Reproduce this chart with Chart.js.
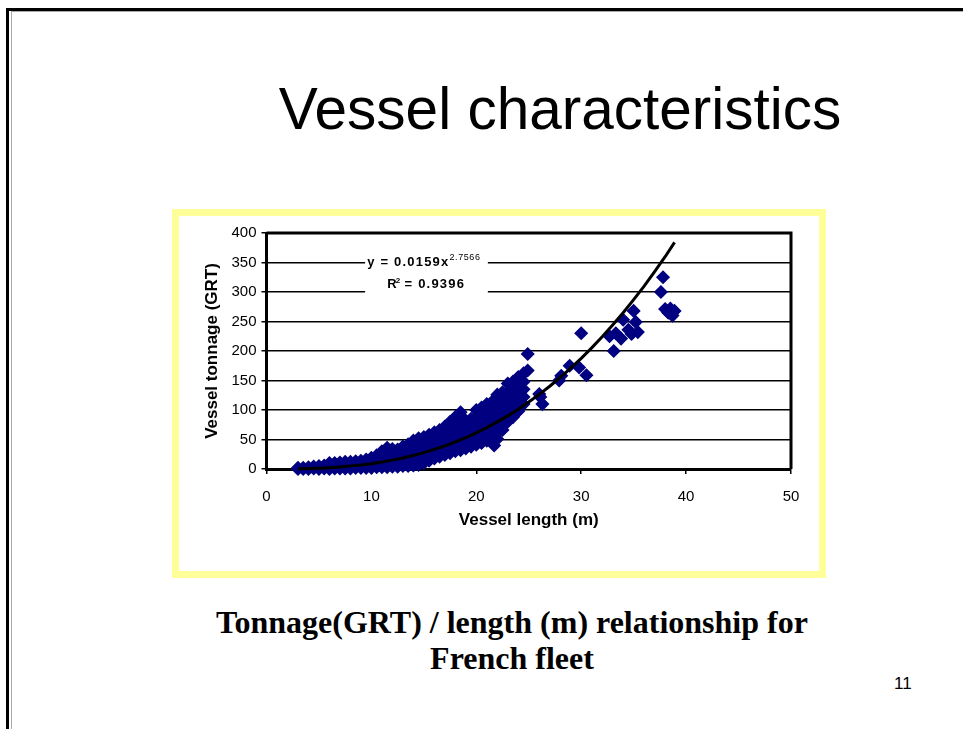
<!DOCTYPE html>
<html>
<head>
<meta charset="utf-8">
<script src="https://cdn.jsdelivr.net/npm/chart.js@4"></script>
<style>
  body { margin: 0; width: 963px; height: 729px; background: #fff; overflow: hidden; position: relative; font-family: 'Liberation Sans', Arial, sans-serif; }
  .frame { position: absolute; left: 6px; top: 8px; width: 980px; height: 760px; border-top: 3px solid #000; border-left: 3px solid #000; }
  .inner { position: absolute; left: 11px; top: 11px; width: 980px; height: 760px; border-top: 1px solid #aaa; border-left: 1px solid #aaa; }
  .title { position: absolute; left: 160px; width: 800px; top: 80px; text-align: center; font-size: 58.5px; line-height: 58.5px; color: #000; }
  .box { position: absolute; left: 172px; top: 209px; width: 654px; height: 369px; border: 7px solid #ffff99; box-sizing: border-box; }
  #chart { position: absolute; left: 179px; top: 216px; }
  .caption { position: absolute; left: 112px; width: 800px; top: 604px; text-align: center; font-family: 'Liberation Serif', 'Times New Roman', serif; font-weight: bold; font-size: 32px; line-height: 36px; color: #000; }
  .page { position: absolute; left: 894px; top: 675px; font-size: 17px; line-height: 17px; color: #000; }
</style>
</head>
<body>
<div class="frame"></div>
<div class="inner"></div>
<div class="title">Vessel characteristics</div>
<div class="box"></div>
<canvas id="chart" width="640" height="355"></canvas>
<div class="caption">Tonnage(GRT) / length (m) relationship for<br>French fleet</div>
<div class="page">11</div>
<script>
// vessel length (m), tonnage (GRT)
const smallBoats = [
  [3,0],[3,2],[3.5,0],[3.5,2],[4,0],[4,3],[4.5,1],[4.5,4],[5,0],[5,5],[5.5,1],[5.5,6],
  [6,0],[6,5],[6,10],[6.5,1],[6.5,6],[6.5,10],[7,1],[7,6],[7,11],[7.5,1],[7.5,7],[7.5,12],
  [8,1],[8,7],[8,12],[8.5,2],[8.5,8],[8.5,13],[9,2],[9,8],[9,14],[9.5,2],[9.5,9],[9.5,16],
  [10,2],[10,10],[10,19],[10.5,3],[10.5,12],[10.5,23],[11,3],[11,12],[11,21],[11,30],
  [11.5,3],[11.5,13],[11.5,24],[11.5,36]
];
const midBoats = [
  [12,4],[12,13],[12,24],[12,34],[12.5,4],[12.5,14],[12.5,24],[12.5,33],
  [13,5],[13,15],[13,26],[13,38],[13.5,5],[13.5,16],[13.5,28],[13.5,42],
  [14,6],[14,17],[14,29],[14,40],[14,48],[14.5,7],[14.5,18],[14.5,30],[14.5,41],[14.5,52],
  [15,10],[15,21],[15,32],[15,43],[15,54],[15.5,14],[15.5,24],[15.5,35],[15.5,46],[15.5,58],
  [16,18],[16,28],[16,39],[16,50],[16,62],[16.5,21],[16.5,31],[16.5,42],[16.5,54],[16.5,66],
  [17,24],[17,34],[17,46],[17,58],[17,72],[17.5,27],[17.5,37],[17.5,49],[17.5,61],[17.5,72],[17.5,80],
  [18,30],[18,40],[18,52],[18,64],[18,76],[18,88],[18.5,32],[18.5,43],[18.5,55],[18.5,67],[18.5,80],[18.5,96],
  [19,35],[19,46],[19,58],[19,70],[19,82],[19.5,38],[19.5,49],[19.5,61],[19.5,73],[19.5,85],
  [20,41],[20,52],[20,64],[20,76],[20,88],[20,100]
];
const largeBoats = [
  [20.5,44],[20.5,56],[20.5,68],[20.5,80],[20.5,92],[20.5,104],
  [21,48],[21,60],[21,72],[21,84],[21,96],[21,110],
  [21.5,52],[21.5,64],[21.5,76],[21.5,88],[21.5,100],[21.5,114],[21.7,40],
  [22,51],[22,62],[22,75],[22,88],[22,100],[22,113],[22,126],
  [22.5,66],[22.5,78],[22.5,90],[22.5,103],[22.5,116],[22.5,130],
  [23,80],[23,92],[23,105],[23,118],[23,131],[23,145],
  [23.5,88],[23.5,100],[23.5,113],[23.5,126],[23.5,139],[23.5,148],
  [24,98],[24,110],[24,123],[24,136],[24,150],[24,156],
  [24.5,110],[24.5,122],[24.5,135],[24.5,148],[24.5,162],[24.9,167],[24.9,195]
];
const bigBoats = [
  [26,127],[26.1,122],[26.3,110],[27.9,150],[28.1,158],[28.9,175],[29.8,172],[30.5,159],
  [30,230],[32.7,225],[33.1,200],[33.3,230],[33.8,221],[34,253],[34.5,236],[34.8,229],
  [35,268],[35.2,249],[35.4,232],[37.6,300],[37.8,325],[38,271],[38.3,265],[38.5,272],
  [38.7,260],[38.9,268]
];
// power trendline y = 0.0159x^2.7566
const trendLength = [3,4,5,6,7,8,9,10,11,12,13,14,15,16,17,18,19,20,21,22,23,24,25,26,27,28,29,30,31,32,33,34,35,36,37,38,38.9];
const trendTonnage = [0.33,0.73,1.34,2.22,3.40,4.91,6.79,9.08,11.8,15.0,18.7,22.9,27.8,33.2,39.2,45.9,53.3,61.4,70.2,79.8,90.1,101.3,113.5,126.5,140.3,155.1,170.9,187.6,205.3,224,244,264.9,287,310,334.4,359.8,384];

const FONT = "'Liberation Sans', Arial, sans-serif";
const fleet = smallBoats.concat(midBoats, largeBoats, bigBoats).map(p => ({ x: p[0], y: p[1] }));
const trend = trendLength.map((x, i) => ({ x: x, y: trendTonnage[i] }));

const framePlugin = {
  id: 'frame',
  beforeDatasetsDraw(chart) {
    const { ctx, scales: { x, y } } = chart;
    ctx.save();
    // white label box over the grid lines
    const x1 = x.getPixelForValue(9.4), x2 = x.getPixelForValue(21.1);
    const y1 = y.getPixelForValue(368), y2 = y.getPixelForValue(293);
    ctx.fillStyle = '#fff';
    ctx.fillRect(x1, y1, x2 - x1, y2 - y1);
    ctx.fillStyle = '#000';
    ctx.textBaseline = 'middle';
    ctx.textAlign = 'left';
    let tx = x.getPixelForValue(9.6), ty = y.getPixelForValue(350);
    ctx.font = 'bold 13px ' + FONT;
    ctx.letterSpacing = '1.2px';
    ctx.fillText('y = 0.0159x', tx, ty);
    let w = ctx.measureText('y = 0.0159x').width;
    ctx.font = '9px ' + FONT;
    ctx.letterSpacing = '0.6px';
    ctx.fillText('2.7566', tx + w, ty - 5);
    tx = x.getPixelForValue(11.5); ty = y.getPixelForValue(312);
    ctx.font = 'bold 13px ' + FONT;
    ctx.letterSpacing = '1.2px';
    ctx.fillText('R', tx, ty);
    w = ctx.measureText('R').width;
    ctx.font = 'bold 8px ' + FONT;
    ctx.fillText('2', tx + w - 2, ty - 4);
    ctx.font = 'bold 13px ' + FONT;
    ctx.fillText(' = 0.9396', tx + w + 2, ty);
    ctx.restore();
  },
  afterDatasetsDraw(chart) {
    const { ctx, chartArea: a } = chart;
    ctx.save();
    ctx.strokeStyle = '#000';
    ctx.lineWidth = 3;
    ctx.beginPath();
    ctx.moveTo(a.left, a.top);
    ctx.lineTo(a.right, a.top);
    ctx.lineTo(a.right, a.bottom);
    ctx.stroke();
    ctx.restore();
  }
};

const ctx = document.getElementById('chart').getContext('2d');
const chart = new Chart(ctx, {
  type: 'scatter',
  data: {
    datasets: [{
      label: 'Power trend',
      data: trend,
      showLine: true,
      borderColor: '#000',
      borderWidth: 3,
      pointRadius: 0,
      tension: 0,
      clip: false,
      order: 0
    }, {
      label: 'Vessels',
      data: fleet,
      backgroundColor: '#000080',
      borderColor: '#000080',
      borderWidth: 1.5,
      pointStyle: 'rectRot',
      pointRadius: 6,
      clip: false,
      order: 1
    }]
  },
  options: {
    responsive: false,
    animation: false,
    devicePixelRatio: 1,
    layout: { padding: { top: 17, right: 28, left: 0, bottom: 0 } },
    plugins: { legend: { display: false }, tooltip: { enabled: false } },
    scales: {
      x: {
        type: 'linear',
        min: 0, max: 50,
        afterFit: s => { s.height = 102; },
        ticks: { stepSize: 10, padding: 14, color: '#000', font: { family: FONT, size: 15 } },
        grid: { drawOnChartArea: false, drawTicks: true, tickLength: 5, color: '#000', lineWidth: 1.5 },
        border: { color: '#000', width: 3 },
        title: { display: true, text: 'Vessel length (m)', color: '#000', padding: { top: 0, bottom: 40 }, font: { family: FONT, size: 17, weight: 'bold' } }
      },
      y: {
        min: 0, max: 400,
        afterFit: s => { s.width = 87.5; },
        ticks: { stepSize: 50, padding: 5, color: '#000', font: { family: FONT, size: 15 } },
        grid: { drawTicks: true, tickLength: 5, color: '#000', lineWidth: 1.5 },
        border: { color: '#000', width: 3 },
        title: { display: true, text: 'Vessel tonnage (GRT)', color: '#000', padding: { top: 23, bottom: 0 }, font: { family: FONT, size: 17, weight: 'bold' } }
      }
    }
  },
  plugins: [framePlugin]
});
</script>
</body>
</html>
